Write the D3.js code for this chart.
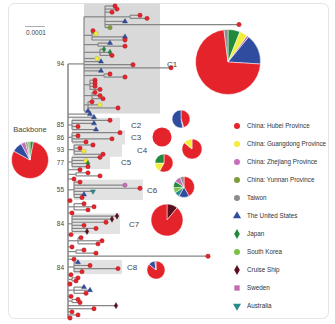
<!DOCTYPE html>
<html>
<head>
<meta charset="utf-8">
<script src="https://cdn.jsdelivr.net/npm/d3@7/dist/d3.min.js"></script>
<style>
  body { margin: 0; background: #fff; }
  svg { display: block; font-family: "Liberation Sans", Arial, sans-serif; }
</style>
</head>
<body>
<div id="chart"></div>
<script>
var width = 335,
  height = 324;

// legend categories
var categories = ["H", "G", "Z", "Y", "T", "U", "J", "K", "C", "S", "A"];
var categoryNames = ["China: Hubei Province", "China: Guangdong Province", "China: Zhejiang Province",
  "China: Yunnan Province", "Taiwon", "The United States", "Japan", "South Korea", "Cruise Ship", "Sweden", "Australia"];
var categoryColors = ["#e5232b", "#f1ee3d", "#c46fb8", "#7f9c3c", "#8c8c8c", "#2f4c9f", "#23893d", "#7cc144", "#5b0f1e", "#c06aa9", "#2a8b8d"];
var categoryShapes = ["circle", "circle", "circle", "circle", "circle", "triangle", "diamond", "circle", "diamond", "square", "triangleDown"];

// tree pieces (newick), tips coded by category, branch lengths in 1e-5 subst/site
var treeC1 = "((H:5,H:6,H:3.5,(H:5,H:8.5):12.5,U:10,H:67,Y:2.5):10.5," +
  "(H:0.5,G:2,U:16.5,H:16.5):4,(U:6,H:13.5):7,(J:2,J:5,H:6):8," +
  "G:6.5,U:8.5,H:24.5,H:43.5,U:8.5,(H:3,H:10.5):10," +
  "(H:2.5,H:2.5,H:2.5,H:5):3,(H:1.5,H:4,H:5.5):4,(H:2,G:6,H:15):2,U:2)C1:8";
var treeC2 = "(H:19,U:11,H:3,U:12)C2:2";
var treeC3 = "(H:24,H:3,H:20,H:7)C3:2";
var treeC4 = "(H:9.5,H:3,G:5,H:14.5)C4:3";
var treeC5 = "(H:14,G:7,J:8,H:8)C5:2";
var treeC6 = "(H:3,Z:25.5,H:33,A:9.5,U:5,H:4)C6:3";
var treeC7 = "(C:22.5,C:20,H:17,H:6,H:12,C:7.5)C7:2";
var treeC8 = "(U:2,H:8,H:22,H:4)C8:3";
var backbone = [
  "U:11,U:13", treeC2, treeC3, treeC4, treeC5,
  "H:6,(H:6,H:12):4,H:3", treeC6,
  "H:1,(H:5,H:10,H:7):3,H:2", treeC7,
  "H:1.5,(H:1.5,H:12,H:10):5,H:2,(H:4,H:10):4,H:70,H:3", treeC8,
  "H:1.5,(H:3,H:2):2,H:1,(U:5,U:8,H:6):3,H:1.5,(H:3,H:4):2,C:24,H:13,H:2,H:5,H:1"
];
var newick = "(" + treeC1 + "," + backbone.join(",") + ");";

var cladeNames = ["C1", "C2", "C3", "C4", "C5", "C6", "C7", "C8"];
var cladeSupport = [94, 85, 86, 93, 77, 55, 84, 84];

// pie compositions: [category, share %] in clockwise order
var pieBackbone = [["J", 3], ["H", 80], ["U", 9], ["Z", 4], ["T", 2], ["K", 2]];
var pieC1 = [["J", 6], ["G", 4], ["Z", 1], ["U", 15], ["H", 72], ["T", 2]];
var pieC2 = [["H", 45], ["T", 2], ["U", 53]];
var pieC3 = [["H", 100]];
var pieC4 = [["H", 86], ["G", 14]];
var pieC5 = [["H", 58], ["G", 17], ["J", 25]];
var pieC6 = [["H", 42], ["U", 16], ["A", 8], ["K", 8], ["J", 10], ["Z", 10], ["T", 6]];
var pieC7 = [["C", 11], ["H", 89]];
var pieC8 = [["H", 86], ["U", 12], ["T", 2]];
var cladePies = [pieC1, pieC2, pieC3, pieC4, pieC5, pieC6, pieC7, pieC8];

// layout (not data): box right edge, label x, pie centre and radius
var cladeLayout = {
  C1: { boxRight: 160, labelX: 167, pie: [228, 62, 32.5] },
  C2: { boxRight: 120, labelX: 131, pie: [181, 119, 9] },
  C3: { boxRight: 125, labelX: 131, pie: [162, 137, 9.5] },
  C4: { boxRight: 122, labelX: 137, pie: [192, 149, 10] },
  C5: { boxRight: 110, labelX: 121, pie: [164, 163, 9] },
  C6: { boxRight: 143, labelX: 147, pie: [184, 187, 10.5] },
  C7: { boxRight: 120, labelX: 129, pie: [167, 220, 16] },
  C8: { boxRight: 122, labelX: 127, pie: [156, 270, 9] }
};

function parseNewick(s) {
  var ancestors = [], tree = {}, tokens = s.split(/\s*(;|\(|\)|,|:)\s*/), subtree;
  for (var i = 0; i < tokens.length; i++) {
    var token = tokens[i];
    switch (token) {
      case "(":
        subtree = {};
        tree.children = [subtree];
        ancestors.push(tree);
        tree = subtree;
        break;
      case ",":
        subtree = {};
        ancestors[ancestors.length - 1].children.push(subtree);
        tree = subtree;
        break;
      case ")":
        tree = ancestors.pop();
        break;
      case ":":
      case ";":
      case "":
        break;
      default:
        var prev = tokens[i - 1];
        if (prev == ")" || prev == "(" || prev == ",") tree.name = token;
        else if (prev == ":") tree.length = parseFloat(token);
    }
  }
  return tree;
}

var colorOf = d3.scaleOrdinal().domain(categories).range(categoryColors);
var shapeOf = d3.scaleOrdinal().domain(categories).range(categoryShapes);
var symbolTypes = {
  circle: d3.symbolCircle, triangle: d3.symbolTriangle, diamond: d3.symbolDiamond,
  square: d3.symbolSquare, triangleDown: d3.symbolTriangle
};

var svg = d3.select("#chart").append("svg")
  .attr("width", width)
  .attr("height", height);

// panel
svg.append("rect")
  .attr("x", 8.5).attr("y", 3.5)
  .attr("width", 320).attr("height", 315)
  .attr("rx", 6)
  .attr("fill", "#fff")
  .attr("stroke", "#e4e4e4");

// tree layout
var root = d3.hierarchy(parseNewick(newick));
root.eachBefore(function (d) {
  d.len = (d.parent ? d.parent.len : 0) + (d.data.length || 0);
});
var leaves = root.leaves();

var x = d3.scaleLinear().domain([0, 10]).range([68, 88]);
var y = d3.scaleLinear().domain([0, leaves.length - 1]).range([6, 318]);

leaves.forEach(function (d, i) { d.py = y(i); });
root.eachAfter(function (d) {
  if (d.children) d.py = (d.children[0].py + d.children[d.children.length - 1].py) / 2;
  d.px = x(d.len);
});

var cladeNodes = {};
root.each(function (d) { if (d.data.name && d.children) cladeNodes[d.data.name] = d; });

// clade boxes
var gBox = svg.append("g");
cladeNames.forEach(function (c) {
  var n = cladeNodes[c], tips = n.leaves();
  var top = tips[0].py - 2.5, bottom = tips[tips.length - 1].py + 2.5;
  gBox.append("rect")
    .attr("x", n.px)
    .attr("y", top)
    .attr("width", cladeLayout[c].boxRight - n.px)
    .attr("height", bottom - top)
    .attr("fill", c == "C1" ? "#d9d9d9" : "#e2e2e2");
});

// branches
var gTree = svg.append("g")
  .attr("stroke", "#858585")
  .attr("stroke-width", 1.2)
  .attr("fill", "none");

gTree.selectAll("line.h")
  .data(root.descendants().filter(function (d) { return d.parent; }))
  .enter().append("line")
  .attr("class", "h")
  .attr("x1", function (d) { return d.parent.px; })
  .attr("x2", function (d) { return d.px; })
  .attr("y1", function (d) { return d.py; })
  .attr("y2", function (d) { return d.py; });

gTree.selectAll("line.v")
  .data(root.descendants().filter(function (d) { return d.children && d.children.length > 1; }))
  .enter().append("line")
  .attr("class", "v")
  .attr("x1", function (d) { return d.px; })
  .attr("x2", function (d) { return d.px; })
  .attr("y1", function (d) { return d.children[0].py; })
  .attr("y2", function (d) { return d.children[d.children.length - 1].py; })
  .attr("stroke-width", function (d) { return d === root ? 1.5 : 1.2; });

// tips
svg.append("g").selectAll("path")
  .data(leaves)
  .enter().append("path")
  .attr("transform", function (d) {
    return "translate(" + d.px + "," + d.py + ")" + (shapeOf(d.data.name) == "triangleDown" ? "rotate(180)" : "");
  })
  .attr("d", function (d) {
    var s = shapeOf(d.data.name);
    return d3.symbol().type(symbolTypes[s]).size(s == "circle" ? 15 : 11)();
  })
  .attr("fill", function (d) { return colorOf(d.data.name); })
  .attr("stroke", function (d) { return d3.color(colorOf(d.data.name)).darker(1); })
  .attr("stroke-width", 0.4);

// support values
svg.append("g").selectAll("text")
  .data(cladeNames)
  .enter().append("text")
  .attr("x", 64)
  .attr("y", function (c) { return cladeNodes[c].py + 2.5; })
  .attr("text-anchor", "end")
  .attr("font-size", 6.5)
  .attr("fill", "#444")
  .text(function (c, i) { return cladeSupport[i]; });

// clade labels
svg.append("g").selectAll("text")
  .data(cladeNames)
  .enter().append("text")
  .attr("x", function (c) { return cladeLayout[c].labelX; })
  .attr("y", function (c) { return cladeNodes[c].py + 3; })
  .attr("font-size", 8)
  .attr("fill", "#444")
  .text(function (c) { return c; });

// pies
var pie = d3.pie().sort(null).value(function (d) { return d[1]; });
function drawPie(data, cx, cy, r) {
  var arc = d3.arc().innerRadius(0).outerRadius(r);
  svg.append("g")
    .attr("transform", "translate(" + cx + "," + cy + ")")
    .selectAll("path")
    .data(pie(data))
    .enter().append("path")
    .attr("d", arc)
    .attr("fill", function (d) { return colorOf(d.data[0]); })
    .attr("stroke", "#fff")
    .attr("stroke-width", data.length > 1 ? 0.5 : 0);
}
cladeNames.forEach(function (c, i) {
  var p = cladeLayout[c].pie;
  drawPie(cladePies[i], p[0], p[1], p[2]);
});
drawPie(pieBackbone, 30, 160, 18.5);

svg.append("text")
  .attr("x", 30).attr("y", 132)
  .attr("text-anchor", "middle")
  .attr("font-size", 7.5)
  .attr("fill", "#444")
  .text("Backbone");

// scale bar
svg.append("line")
  .attr("x1", 25).attr("x2", 25 + x(10) - x(0))
  .attr("y1", 26.5).attr("y2", 26.5)
  .attr("stroke", "#999")
  .attr("stroke-width", 0.8);
svg.append("text")
  .attr("x", 36).attr("y", 34.5)
  .attr("text-anchor", "middle")
  .attr("font-size", 6.5)
  .attr("fill", "#444")
  .text("0.0001");

// legend
var legend = svg.append("g").selectAll("g")
  .data(categories)
  .enter().append("g")
  .attr("transform", function (d, i) { return "translate(237," + (126 + i * 18) + ")"; });

legend.append("path")
  .attr("transform", function (d) { return shapeOf(d) == "triangleDown" ? "rotate(180)" : null; })
  .attr("d", function (d) { return d3.symbol().type(symbolTypes[shapeOf(d)]).size(28)(); })
  .attr("fill", function (d) { return colorOf(d); });

legend.append("text")
  .attr("x", 10)
  .attr("y", 2.3)
  .attr("font-size", 6.3)
  .attr("fill", "#333")
  .text(function (d, i) { return categoryNames[i]; });
</script>
</body>
</html>
